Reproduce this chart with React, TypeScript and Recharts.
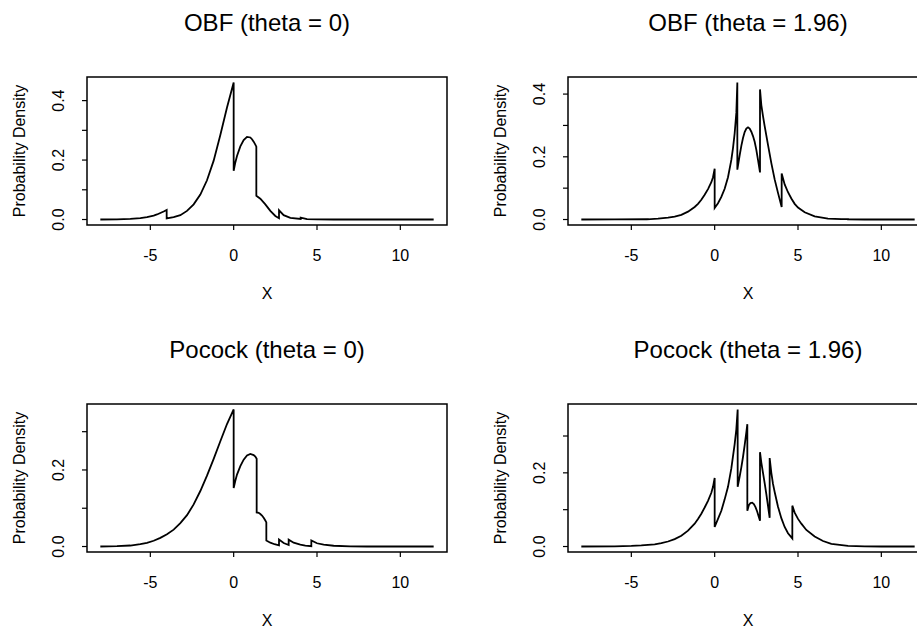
import React from 'react';
import { LineChart, Line, XAxis, YAxis, ReferenceArea } from 'recharts';

type Pt = [number, number];

const FONT = '"Liberation Sans", Arial, Helvetica, sans-serif';

// shared axis setup (R-style: ticks every 5 on x, every 0.1 on y, labels every 0.2)
const xRange: [number, number] = [-8, 12];
const xTicks = [-5, 0, 5, 10];
const yTicksObf = [0, 0.1, 0.2, 0.3, 0.4];
const yTicksPocock = [0, 0.1, 0.2, 0.3];
const yLabelled = [0, 0.2, 0.4];

// OBF, theta = 0
const obfNull: Pt[] = [
  [-8, 0], [-7, 0.0005], [-6.2, 0.002], [-5.6, 0.005], [-5.2, 0.008], [-4.8, 0.013],
  [-4.6, 0.017], [-4.4, 0.022], [-4.2, 0.027], [-4.02, 0.032], [-4.02, 0.004],
  [-3.6, 0.008], [-3.2, 0.0146], [-2.8, 0.029], [-2.4, 0.051], [-2.0, 0.084],
  [-1.6, 0.132], [-1.2, 0.198], [-0.8, 0.284], [-0.4, 0.377], [0, 0.461],
  [0, 0.164], [0.1, 0.192], [0.2, 0.214], [0.4, 0.246], [0.6, 0.267], [0.8, 0.278],
  [1.0, 0.276], [1.1, 0.27], [1.2, 0.262], [1.3, 0.252], [1.36, 0.245],
  [1.36, 0.08], [1.6, 0.07], [1.9, 0.051], [2.2, 0.029], [2.5, 0.012], [2.72, 0.0045],
  [2.72, 0.031], [3.0, 0.0146], [3.4, 0.0056], [4.02, 0.002], [4.02, 0.0065],
  [4.4, 0.0012], [5, 0.0002], [6, 0], [12, 0],
];

// OBF, theta = 1.96
const obfAlt: Pt[] = [
  [-8, 0], [-6, 0.0003], [-4.02, 0.0015], [-4.02, 0.0007], [-3.4, 0.003], [-2.8, 0.006],
  [-2.4, 0.009], [-2.0, 0.015], [-1.6, 0.025], [-1.2, 0.04], [-1.0, 0.05], [-0.8, 0.063],
  [-0.6, 0.079], [-0.4, 0.097], [-0.2, 0.119], [-0.1, 0.135], [0, 0.162],
  [0, 0.037], [0.2, 0.052], [0.4, 0.072], [0.6, 0.098], [0.8, 0.135], [1.0, 0.19],
  [1.1, 0.228], [1.2, 0.275], [1.3, 0.34], [1.36, 0.437],
  [1.36, 0.159], [1.5, 0.205], [1.6, 0.235], [1.7, 0.26], [1.8, 0.279], [1.9, 0.29],
  [2.0, 0.294], [2.1, 0.29], [2.2, 0.28], [2.3, 0.266], [2.4, 0.248], [2.5, 0.222],
  [2.6, 0.19], [2.72, 0.15],
  [2.72, 0.415], [2.8, 0.365], [2.9, 0.33], [3.0, 0.298], [3.2, 0.238], [3.4, 0.18],
  [3.6, 0.128], [3.8, 0.085], [4.02, 0.04],
  [4.02, 0.147], [4.2, 0.112], [4.4, 0.087], [4.6, 0.067], [4.8, 0.05], [5.0, 0.038],
  [5.4, 0.023], [6.0, 0.01], [6.8, 0.003], [7.6, 0.001], [8.0, 0.0012], [8.0, 0.0004],
  [9, 0], [12, 0],
];

// Pocock, theta = 0
const pocockNull: Pt[] = [
  [-8, 0], [-7, 0.0008], [-6.2, 0.0026], [-5.6, 0.006], [-5.2, 0.0096], [-4.8, 0.015],
  [-4.4, 0.0225], [-4.0, 0.032], [-3.6, 0.044], [-3.2, 0.061], [-2.8, 0.082], [-2.4, 0.11],
  [-2.0, 0.145], [-1.6, 0.185], [-1.2, 0.229], [-0.8, 0.275], [-0.4, 0.32], [0, 0.358],
  [0, 0.153], [0.1, 0.172], [0.2, 0.188], [0.4, 0.21], [0.6, 0.227], [0.8, 0.238],
  [1.0, 0.242], [1.2, 0.239], [1.3, 0.235], [1.38, 0.229],
  [1.38, 0.089], [1.5, 0.088], [1.6, 0.085], [1.7, 0.081], [1.8, 0.075], [1.9, 0.068],
  [1.96, 0.063], [1.96, 0.0157], [2.2, 0.01], [2.45, 0.006], [2.72, 0.003],
  [2.72, 0.018], [3.0, 0.009], [3.3, 0.004], [3.3, 0.018], [3.6, 0.01], [4.0, 0.005],
  [4.3, 0.0025], [4.66, 0.001], [4.66, 0.0157], [5.0, 0.0085], [5.4, 0.005], [6.0, 0.002],
  [7, 0.0005], [8, 0], [12, 0],
];

// Pocock, theta = 1.96
const pocockAlt: Pt[] = [
  [-8, 0], [-6, 0.0005], [-5, 0.0015], [-4.4, 0.003], [-3.6, 0.006], [-3.2, 0.009],
  [-2.8, 0.0136], [-2.4, 0.02], [-2.0, 0.029], [-1.6, 0.043], [-1.2, 0.062], [-1.0, 0.075],
  [-0.8, 0.089], [-0.6, 0.106], [-0.4, 0.124], [-0.2, 0.146], [-0.1, 0.162], [0, 0.186],
  [0, 0.053], [0.2, 0.075], [0.4, 0.097], [0.6, 0.128], [0.8, 0.162], [1.0, 0.212],
  [1.2, 0.278], [1.3, 0.318], [1.38, 0.372],
  [1.38, 0.162], [1.5, 0.19], [1.6, 0.215], [1.7, 0.243], [1.8, 0.275], [1.9, 0.31],
  [1.96, 0.332], [1.96, 0.097], [2.05, 0.112], [2.15, 0.118], [2.25, 0.119], [2.35, 0.115],
  [2.45, 0.107], [2.55, 0.095], [2.65, 0.08], [2.72, 0.07],
  [2.72, 0.256], [2.8, 0.228], [2.9, 0.2], [3.0, 0.172], [3.1, 0.142], [3.2, 0.11],
  [3.3, 0.078], [3.3, 0.24], [3.4, 0.2], [3.5, 0.17], [3.6, 0.148], [3.8, 0.108],
  [4.0, 0.077], [4.2, 0.053], [4.4, 0.036], [4.66, 0.022],
  [4.66, 0.111], [4.8, 0.092], [5.0, 0.075], [5.2, 0.062], [5.5, 0.045], [6.0, 0.027],
  [6.5, 0.015], [7.0, 0.007], [8.0, 0.002], [9, 0.0005], [10, 0], [12, 0],
];

const W = 480;
const H = 326;
const BOX = { left: 87, right: 447, top: 77, bottom: 225 };

function XTick(props: any) {
  const { x, y, payload } = props;
  return (
    <text x={x} y={y + 31} textAnchor="middle" fontSize={16} fontFamily={FONT} fill="#000">
      {payload.value}
    </text>
  );
}

function YTick(props: any) {
  const { x, y, payload } = props;
  if (!yLabelled.some((v) => Math.abs(v - payload.value) < 1e-9)) return <g />;
  const bx = x - 18;
  return (
    <text
      x={bx}
      y={y}
      transform={`rotate(-90 ${bx} ${y})`}
      textAnchor="middle"
      fontSize={16}
      fontFamily={FONT}
      fill="#000"
    >
      {payload.value.toFixed(1)}
    </text>
  );
}

interface PanelProps {
  title: string;
  points: Pt[];
  yTicks: number[];
  left: number;
  top: number;
}

function DensityPanel({ title, points, yTicks, left, top }: PanelProps) {
  const data = points.map(([x, y]) => ({ x, y }));

  // R's default 4% axis padding
  const yMax = Math.max(...points.map((p) => p[1]));
  const yDomain: [number, number] = [-0.04 * yMax, 1.04 * yMax];
  const xSpan = xRange[1] - xRange[0];
  const xDomain: [number, number] = [xRange[0] - 0.04 * xSpan, xRange[1] + 0.04 * xSpan];
  const midX = (BOX.left + BOX.right) / 2;
  const midY = (BOX.top + BOX.bottom) / 2;

  return (
    <div style={{ position: 'absolute', left, top, width: W, height: H }}>
      <div
        style={{
          position: 'absolute',
          left: BOX.left,
          width: BOX.right - BOX.left,
          top: 9,
          textAlign: 'center',
          fontSize: 24,
          lineHeight: '28px',
          fontFamily: FONT,
          color: '#000',
          whiteSpace: 'nowrap',
        }}
      >
        {title}
      </div>
      <LineChart
        width={W}
        height={H}
        data={data}
        margin={{ top: BOX.top, right: W - BOX.right, bottom: 0, left: 0 }}
      >
        <XAxis
          dataKey="x"
          type="number"
          domain={xDomain}
          ticks={xTicks}
          allowDataOverflow
          axisLine={false}
          tickLine={{ stroke: '#000', strokeWidth: 1.2 }}
          tickSize={5}
          tickMargin={0}
          height={H - BOX.bottom}
          tick={XTick}
          label={() => (
            <text x={midX} y={299} textAnchor="middle" fontSize={16} fontFamily={FONT} fill="#000">
              X
            </text>
          )}
        />
        <YAxis
          type="number"
          domain={yDomain}
          ticks={yTicks}
          allowDataOverflow
          axisLine={false}
          tickLine={{ stroke: '#000', strokeWidth: 1.2 }}
          tickSize={5}
          tickMargin={0}
          width={BOX.left}
          tick={YTick}
          label={() => (
            <text
              x={24.8}
              y={midY}
              transform={`rotate(-90 24.8 ${midY})`}
              textAnchor="middle"
              fontSize={16}
              fontFamily={FONT}
              fill="#000"
            >
              Probability Density
            </text>
          )}
        />
        <ReferenceArea
          x1={xDomain[0]}
          x2={xDomain[1]}
          y1={yDomain[0]}
          y2={yDomain[1]}
          fill="none"
          stroke="#000"
          strokeWidth={1.5}
          ifOverflow="visible"
        />
        <Line
          dataKey="y"
          type="linear"
          stroke="#000"
          strokeWidth={1.8}
          dot={false}
          activeDot={false}
          isAnimationActive={false}
        />
      </LineChart>
    </div>
  );
}

export default function App() {
  return (
    <div
      style={{
        position: 'absolute',
        left: 0,
        top: 0,
        width: 917,
        height: 628,
        overflow: 'hidden',
        background: '#fff',
        fontFamily: FONT,
      }}
    >
      <DensityPanel title="OBF (theta = 0)" points={obfNull} yTicks={yTicksObf} left={0} top={0} />
      <DensityPanel title="OBF (theta = 1.96)" points={obfAlt} yTicks={yTicksObf} left={481} top={0} />
      <DensityPanel title="Pocock (theta = 0)" points={pocockNull} yTicks={yTicksPocock} left={0} top={327} />
      <DensityPanel title="Pocock (theta = 1.96)" points={pocockAlt} yTicks={yTicksPocock} left={481} top={327} />
    </div>
  );
}
